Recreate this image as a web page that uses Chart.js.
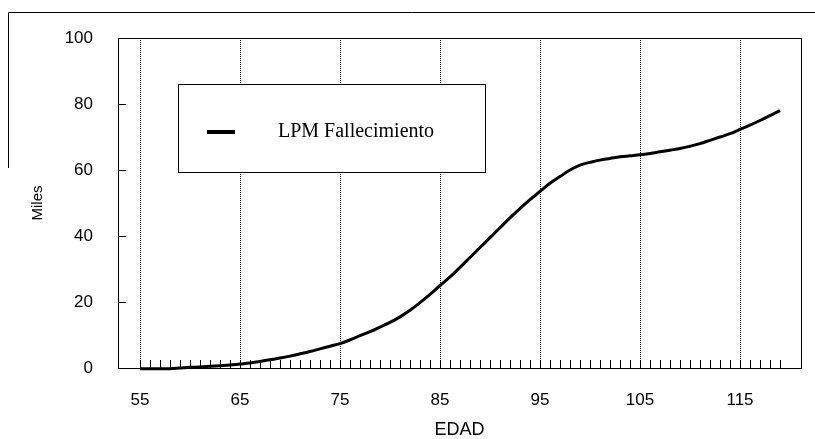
<!DOCTYPE html>
<html>
<head>
<meta charset="utf-8">
<script src="https://cdn.jsdelivr.net/npm/chart.js@4"></script>
<style>
  html, body { margin: 0; background: #fff; }
  #wrap { width: 815px; height: 439px; }
</style>
</head>
<body>
<div id="wrap"><canvas id="chart"></canvas></div>
<script>
// edad (años) y LPM fallecimiento (miles)
const edad = [55,56,57,58,59,60,61,62,63,64,65,66,67,68,69,70,71,72,73,74,75,76,77,78,79,80,81,82,83,84,85,86,87,88,89,90,91,92,93,94,95,96,97,98,99,100,101,102,103,104,105,106,107,108,109,110,111,112,113,114,115,116,117,118,119];
const lpmFallecimiento = [-0.2,-0.2,-0.2,-0.2,0,0.2,0.3,0.5,0.7,0.9,1.2,1.5,2,2.5,3,3.6,4.3,5,5.8,6.6,7.4,8.5,9.8,11,12.4,13.8,15.5,17.5,19.8,22.3,25,27.6,30.5,33.5,36.5,39.5,42.5,45.5,48.3,51,53.5,56,58,60,61.5,62.3,63,63.5,64,64.3,64.6,65,65.5,66,66.5,67.2,68,69,70,71,72.3,73.6,75,76.5,78];
const xTicks = [55,65,75,85,95,105,115];
const yTicks = [0,20,40,60,80,100];

const frame = {
  id: 'frame',
  afterDraw(chart) {
    const ctx = chart.ctx;
    const a = chart.chartArea;
    const x = chart.scales.x, y = chart.scales.y;
    ctx.save();
    ctx.strokeStyle = '#000';
    ctx.lineWidth = 1;
    ctx.setLineDash([]);

    // plot box
    ctx.strokeRect(a.left + 0.5, a.top + 0.5, a.right - a.left, a.bottom - a.top);

    // outer frame (top and left only)
    ctx.beginPath();
    ctx.moveTo(8.5, 168);
    ctx.lineTo(8.5, 12.5);
    ctx.lineTo(815, 12.5);
    ctx.stroke();

    // small year ticks along the bottom, pointing up
    ctx.beginPath();
    edad.forEach(v => {
      const px = Math.round(x.getPixelForValue(v)) + 0.5;
      ctx.moveTo(px, a.bottom);
      ctx.lineTo(px, a.bottom - 8);
    });
    // y ticks pointing inward
    yTicks.forEach(v => {
      const py = Math.round(y.getPixelForValue(v)) + 0.5;
      ctx.moveTo(a.left, py);
      ctx.lineTo(a.left + 8, py);
    });
    ctx.stroke();

    // legend box
    ctx.fillStyle = '#fff';
    ctx.fillRect(178.5, 84.5, 307, 88);
    ctx.strokeRect(178.5, 84.5, 307, 88);
    ctx.lineWidth = 4;
    ctx.beginPath();
    ctx.moveTo(207, 132);
    ctx.lineTo(235, 132);
    ctx.stroke();
    ctx.fillStyle = '#000';
    ctx.font = '20px "Liberation Serif", "Times New Roman", serif';
    ctx.textBaseline = 'middle';
    ctx.textAlign = 'left';
    ctx.fillText(chart.data.datasets[0].label, 278, 132);
    ctx.restore();
  }
};

new Chart(document.getElementById('chart'), {
  type: 'line',
  data: {
    datasets: [{
      label: 'LPM Fallecimiento',
      data: edad.map((e, i) => ({ x: e, y: lpmFallecimiento[i] })),
      borderColor: '#000',
      borderWidth: 3,
      pointRadius: 0,
      tension: 0.4,
      fill: false,
      clip: 4
    }]
  },
  options: {
    responsive: true,
    maintainAspectRatio: false,
    animation: false,
    layout: { padding: { left: 0, top: 38, right: 14, bottom: 0 } },
    plugins: { legend: { display: false }, tooltip: { enabled: false } },
    scales: {
      x: {
        type: 'linear',
        min: 52.8,
        max: 121.1,
        afterBuildTicks: s => { s.ticks = xTicks.map(v => ({ value: v })); },
        afterFit: s => { s.height = 71; },
        grid: { color: '#000', lineWidth: 1, drawTicks: false },
        border: { display: false, dash: [1, 1] },
        ticks: {
          color: '#000',
          padding: 22,
          maxRotation: 0,
          font: { family: '"Liberation Sans", Arial, sans-serif', size: 17 }
        },
        title: {
          display: true,
          text: 'EDAD',
          color: '#000',
          padding: { top: 0, bottom: 0 },
          font: { family: '"Liberation Sans", Arial, sans-serif', size: 18, lineHeight: 1 }
        }
      },
      y: {
        min: 0,
        max: 100,
        afterFit: s => { s.width = 118; },
        grid: { display: false },
        border: { display: false },
        ticks: {
          stepSize: 20,
          color: '#000',
          padding: 17,
          font: { family: '"Liberation Sans", Arial, sans-serif', size: 17 }
        },
        title: {
          display: true,
          text: 'Miles',
          color: '#000',
          padding: { top: 29, bottom: 0 },
          font: { family: '"Liberation Sans", Arial, sans-serif', size: 15 }
        }
      }
    }
  },
  plugins: [frame]
});
</script>
</body>
</html>
